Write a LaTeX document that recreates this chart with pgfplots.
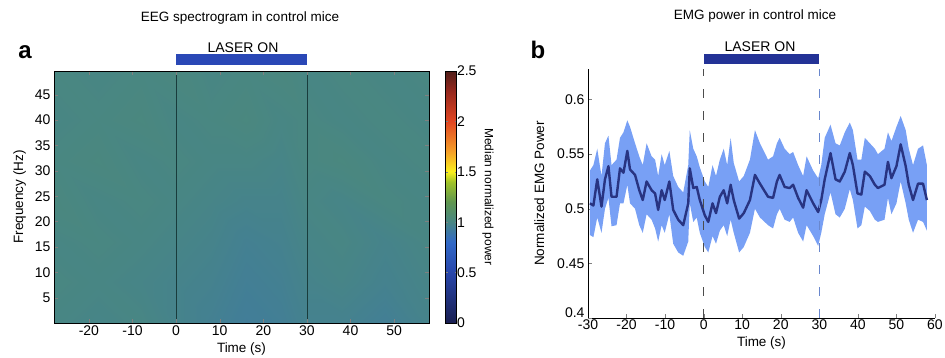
\documentclass[border=0pt]{standalone}
\usepackage{pgfplots}
\pgfplotsset{compat=1.18}
\usepackage{pgfplotstable}
\usepackage{fontspec}
\setmainfont{Liberation Sans}

\definecolor{bandblue}{RGB}{120,160,245}
\definecolor{meanblue}{RGB}{40,52,130}
\definecolor{barA}{RGB}{42,72,182}
\definecolor{barB}{RGB}{35,50,150}
\definecolor{dashblue}{RGB}{105,135,205}

\pgfplotsset{
  colormap={eeg}{rgb255(0)=(25,30,80) rgb255(5)=(40,70,170) rgb255(8)=(50,105,200)
    rgb255(10)=(72,134,132) rgb255(12)=(95,150,80) rgb255(14)=(160,195,40)
    rgb255(15)=(250,240,30) rgb255(17)=(245,160,40) rgb255(20)=(225,70,35)
    rgb255(23)=(150,40,30) rgb255(25)=(80,30,25)}
}

\pgfplotstableread{
x y c
-28 0 1.00
-18 0 0.99
-8 0 1.00
0 0 0.98
8 0 0.96
16 0 0.94
24 0 0.95
30 0 0.97
38 0 0.97
48 0 0.95
58 0 0.98
-28 8 1.01
-18 8 1.00
-8 8 0.99
0 8 0.98
8 8 0.97
16 8 0.95
24 8 0.96
30 8 0.98
38 8 0.99
48 8 0.97
58 8 0.99
-28 16 1.00
-18 16 1.01
-8 16 1.00
0 16 0.99
8 16 0.98
16 16 0.96
24 16 0.97
30 16 0.99
38 16 1.00
48 16 0.98
58 16 1.00
-28 24 1.02
-18 24 1.00
-8 24 1.01
0 24 1.00
8 24 0.99
16 24 0.98
24 24 0.98
30 24 1.00
38 24 0.99
48 24 1.01
58 24 1.00
-28 32 1.01
-18 32 1.02
-8 32 1.00
0 32 1.01
8 32 1.00
16 32 1.00
24 32 0.99
30 32 1.01
38 32 1.02
48 32 1.00
58 32 1.01
-28 40 1.00
-18 40 1.01
-8 40 1.02
0 40 1.00
8 40 1.01
16 40 1.02
24 40 1.00
30 40 1.01
38 40 1.00
48 40 1.01
58 40 1.00
-28 49.7 1.01
-18 49.7 1.00
-8 49.7 1.01
0 49.7 1.02
8 49.7 1.00
16 49.7 1.01
24 49.7 1.02
30 49.7 1.00
38 49.7 1.01
48 49.7 1.00
58 49.7 1.01
}\eegtable

% mean EMG power
\pgfplotstableread{
t m
-29.5 0.505
-28.6 0.503
-27.6 0.527
-26.5 0.502
-25.6 0.527
-24.7 0.539
-23.9 0.511
-22.6 0.511
-21.7 0.537
-20.8 0.533
-19.8 0.553
-19.1 0.536
-17.8 0.531
-16.7 0.517
-15.8 0.508
-14.8 0.525
-13.5 0.517
-12.6 0.514
-11.8 0.499
-10.9 0.517
-10.1 0.508
-8.9 0.525
-7.9 0.499
-6.6 0.490
-5.3 0.485
-4.0 0.505
-3.6 0.537
-2.7 0.519
-1.8 0.520
-1.0 0.508
0.3 0.494
1.2 0.488
2.3 0.505
3.2 0.496
4.2 0.511
5.2 0.517
6.1 0.505
7.0 0.522
7.8 0.508
9.2 0.491
10.4 0.496
12.0 0.508
13.3 0.531
14.6 0.523
16.7 0.511
18.0 0.510
19.0 0.525
19.7 0.531
21.0 0.520
22.3 0.519
23.2 0.522
24.5 0.510
25.8 0.501
26.7 0.517
28.4 0.505
29.7 0.497
30.5 0.508
31.4 0.527
32.9 0.551
34.2 0.527
35.3 0.525
36.6 0.534
37.9 0.551
38.7 0.540
39.9 0.514
40.9 0.513
41.8 0.534
43.1 0.530
44.4 0.522
45.2 0.519
46.9 0.522
47.8 0.543
48.7 0.528
50.0 0.539
51.1 0.559
52.4 0.539
53.2 0.522
54.3 0.508
55.6 0.523
56.9 0.523
57.9 0.508
}\emgtable

% error band: upper edge forward, lower edge backward
\pgfplotstableread{
t v
-29.5 0.535
-28.6 0.540
-27.6 0.555
-26.5 0.530
-25.6 0.560
-24.7 0.567
-23.9 0.540
-22.6 0.545
-21.7 0.565
-20.8 0.570
-19.8 0.581
-19.1 0.575
-17.8 0.560
-16.7 0.548
-15.8 0.540
-14.8 0.560
-13.5 0.548
-12.6 0.545
-11.8 0.530
-10.9 0.550
-10.1 0.540
-8.9 0.553
-7.9 0.530
-6.6 0.520
-5.3 0.515
-4.0 0.540
-3.6 0.572
-2.7 0.555
-1.8 0.548
-1.0 0.538
0.3 0.525
1.2 0.520
2.3 0.540
3.2 0.530
4.2 0.545
5.2 0.555
6.1 0.540
7.0 0.565
7.8 0.542
9.2 0.525
10.4 0.530
12.0 0.545
13.3 0.572
14.6 0.560
16.7 0.545
18.0 0.548
19.0 0.560
19.7 0.565
21.0 0.555
22.3 0.550
23.2 0.552
24.5 0.540
25.8 0.530
26.7 0.548
28.4 0.535
29.7 0.528
30.5 0.540
31.4 0.565
32.9 0.577
34.2 0.560
35.3 0.558
36.6 0.570
37.9 0.579
38.7 0.572
39.9 0.545
40.9 0.545
41.8 0.565
43.1 0.560
44.4 0.555
45.2 0.550
46.9 0.555
47.8 0.570
48.7 0.562
50.0 0.575
51.1 0.585
52.4 0.572
53.2 0.555
54.3 0.540
55.6 0.555
56.9 0.558
57.9 0.540
57.9 0.480
56.9 0.488
55.6 0.490
54.3 0.478
53.2 0.490
52.4 0.505
51.1 0.525
50.0 0.505
48.7 0.495
47.8 0.510
46.9 0.490
45.2 0.488
44.4 0.490
43.1 0.498
41.8 0.502
40.9 0.485
39.9 0.482
38.7 0.508
37.9 0.518
36.6 0.500
35.3 0.492
34.2 0.495
32.9 0.515
31.4 0.495
30.5 0.478
29.7 0.466
28.4 0.475
26.7 0.485
25.8 0.470
24.5 0.478
23.2 0.492
22.3 0.488
21.0 0.490
19.7 0.500
19.0 0.495
18.0 0.482
16.7 0.485
14.6 0.492
13.3 0.500
12.0 0.478
10.4 0.465
9.2 0.460
7.8 0.478
7.0 0.490
6.1 0.475
5.2 0.485
4.2 0.480
3.2 0.468
2.3 0.475
1.2 0.460
0.3 0.465
-1.0 0.478
-1.8 0.492
-2.7 0.488
-3.6 0.505
-4.0 0.470
-5.3 0.457
-6.6 0.460
-7.9 0.468
-8.9 0.495
-10.1 0.478
-10.9 0.485
-11.8 0.470
-12.6 0.482
-13.5 0.490
-14.8 0.495
-15.8 0.478
-16.7 0.485
-17.8 0.500
-19.1 0.505
-19.8 0.522
-20.8 0.505
-21.7 0.505
-22.6 0.485
-23.9 0.484
-24.7 0.510
-25.6 0.500
-26.5 0.478
-27.6 0.492
-28.6 0.474
-29.5 0.476
}\bandtable

\begin{document}
\begin{tikzpicture}
\useasboundingbox (0,0) rectangle (945pt,358pt);
\pgfplotsset{every axis/.append style={
  /pgf/number format/assume math mode=true,
  tick label style={font=\fontsize{14}{16}\selectfont},
  label style={font=\fontsize{13.5}{15}\selectfont},
  major tick length=4pt,
}}

% Panel a
\begin{axis}[
  at={(54pt,35pt)}, anchor=south west,
  scale only axis, width=375pt, height=252pt,
  xmin=-28, xmax=58, ymin=0, ymax=49.7,
  xtick={-20,-10,0,10,20,30,40,50},
  ytick={5,10,15,20,25,30,35,40,45},
  tick align=inside,
  colormap name=eeg,
  point meta min=0, point meta max=2.5,
  clip mode=individual,
  axis on top,
  xlabel={Time (s)}, ylabel={Frequency (Hz)},
  xlabel style={yshift=0pt},
  ylabel style={yshift=2pt},
  xticklabel style={yshift=1pt},
  colorbar,
  colorbar style={
    at={(parent axis.north east)}, anchor=north west, xshift=8pt,
    width=11pt,
    ytick={0,0.5,1,1.5,2,2.5},
    /pgf/number format/assume math mode=true,
    yticklabel style={font=\fontsize{14}{16}\selectfont, xshift=-3pt},
    major tick length=2pt,
    ylabel={Median normalized power},
    ylabel style={rotate=180, font=\fontsize{12}{14}\selectfont, xshift=0pt, yshift=-1pt},
  },
]
\addplot[surf, shader=interp, mesh/cols=11, point meta=explicit] table[x=x, y=y, meta=c] {\eegtable};
\draw[color={rgb,255:red,25;green,60;blue,60}, line width=0.8pt] (axis cs:0,0) -- (axis cs:0,49.7);
\draw[color={rgb,255:red,25;green,60;blue,60}, line width=0.8pt] (axis cs:30,0) -- (axis cs:30,49.7);
\fill[barA] (axis cs:0,50.9) rectangle (axis cs:30,53.05);
\end{axis}

% Panel b
\begin{axis}[
  at={(588pt,40pt)}, anchor=south west,
  scale only axis, width=347pt, height=249pt,
  xmin=-30, xmax=60, ymin=0.4, ymax=0.628,
  axis x line*=bottom, axis y line*=left,
  xtick={-30,-20,-10,0,10,20,30,40,50,60},
  ytick={0.45,0.5,0.55,0.6},
  extra y ticks={0.4},
  extra y tick style={yticklabel style={yshift=5pt}},
  yticklabel style={/pgf/number format/fixed, /pgf/number format/precision=2},
  xticklabel style={yshift=2pt},
  tick align=inside,
  clip=false,
  xlabel={Time (s)}, ylabel={Normalized EMG Power},
  xlabel style={yshift=0pt},
  ylabel style={yshift=6pt},
]
\addplot[fill=bandblue, draw=none] table[x=t, y=v] {\bandtable};
\addplot[meanblue, line width=2.4pt, line join=round] table[x=t, y=m] {\emgtable};
\draw[black!70, line width=0.8pt, dash pattern=on 9pt off 13pt] (axis cs:0,0.4) -- (axis cs:0,0.628);
\draw[dashblue, line width=0.8pt, dash pattern=on 9pt off 13pt] (axis cs:30,0.4) -- (axis cs:30,0.628);
\fill[barB] (axis cs:0,0.6326) rectangle (axis cs:30,0.6418);
\end{axis}

\node[font=\fontsize{13.5}{15}\selectfont] at (240pt,340pt) {EEG spectrogram in control mice};
\node[font=\fontsize{13.5}{15}\selectfont] at (755pt,342pt) {EMG power in control mice};
\node[font=\fontsize{14}{16}\selectfont] at (243pt,310pt) {LASER ON};
\node[font=\fontsize{14}{16}\selectfont] at (760pt,311pt) {LASER ON};
\node[font=\bfseries\fontsize{24}{26}\selectfont] at (25pt,306pt) {a};
\node[font=\bfseries\fontsize{24}{26}\selectfont] at (538pt,308pt) {b};
\end{tikzpicture}
\end{document}
